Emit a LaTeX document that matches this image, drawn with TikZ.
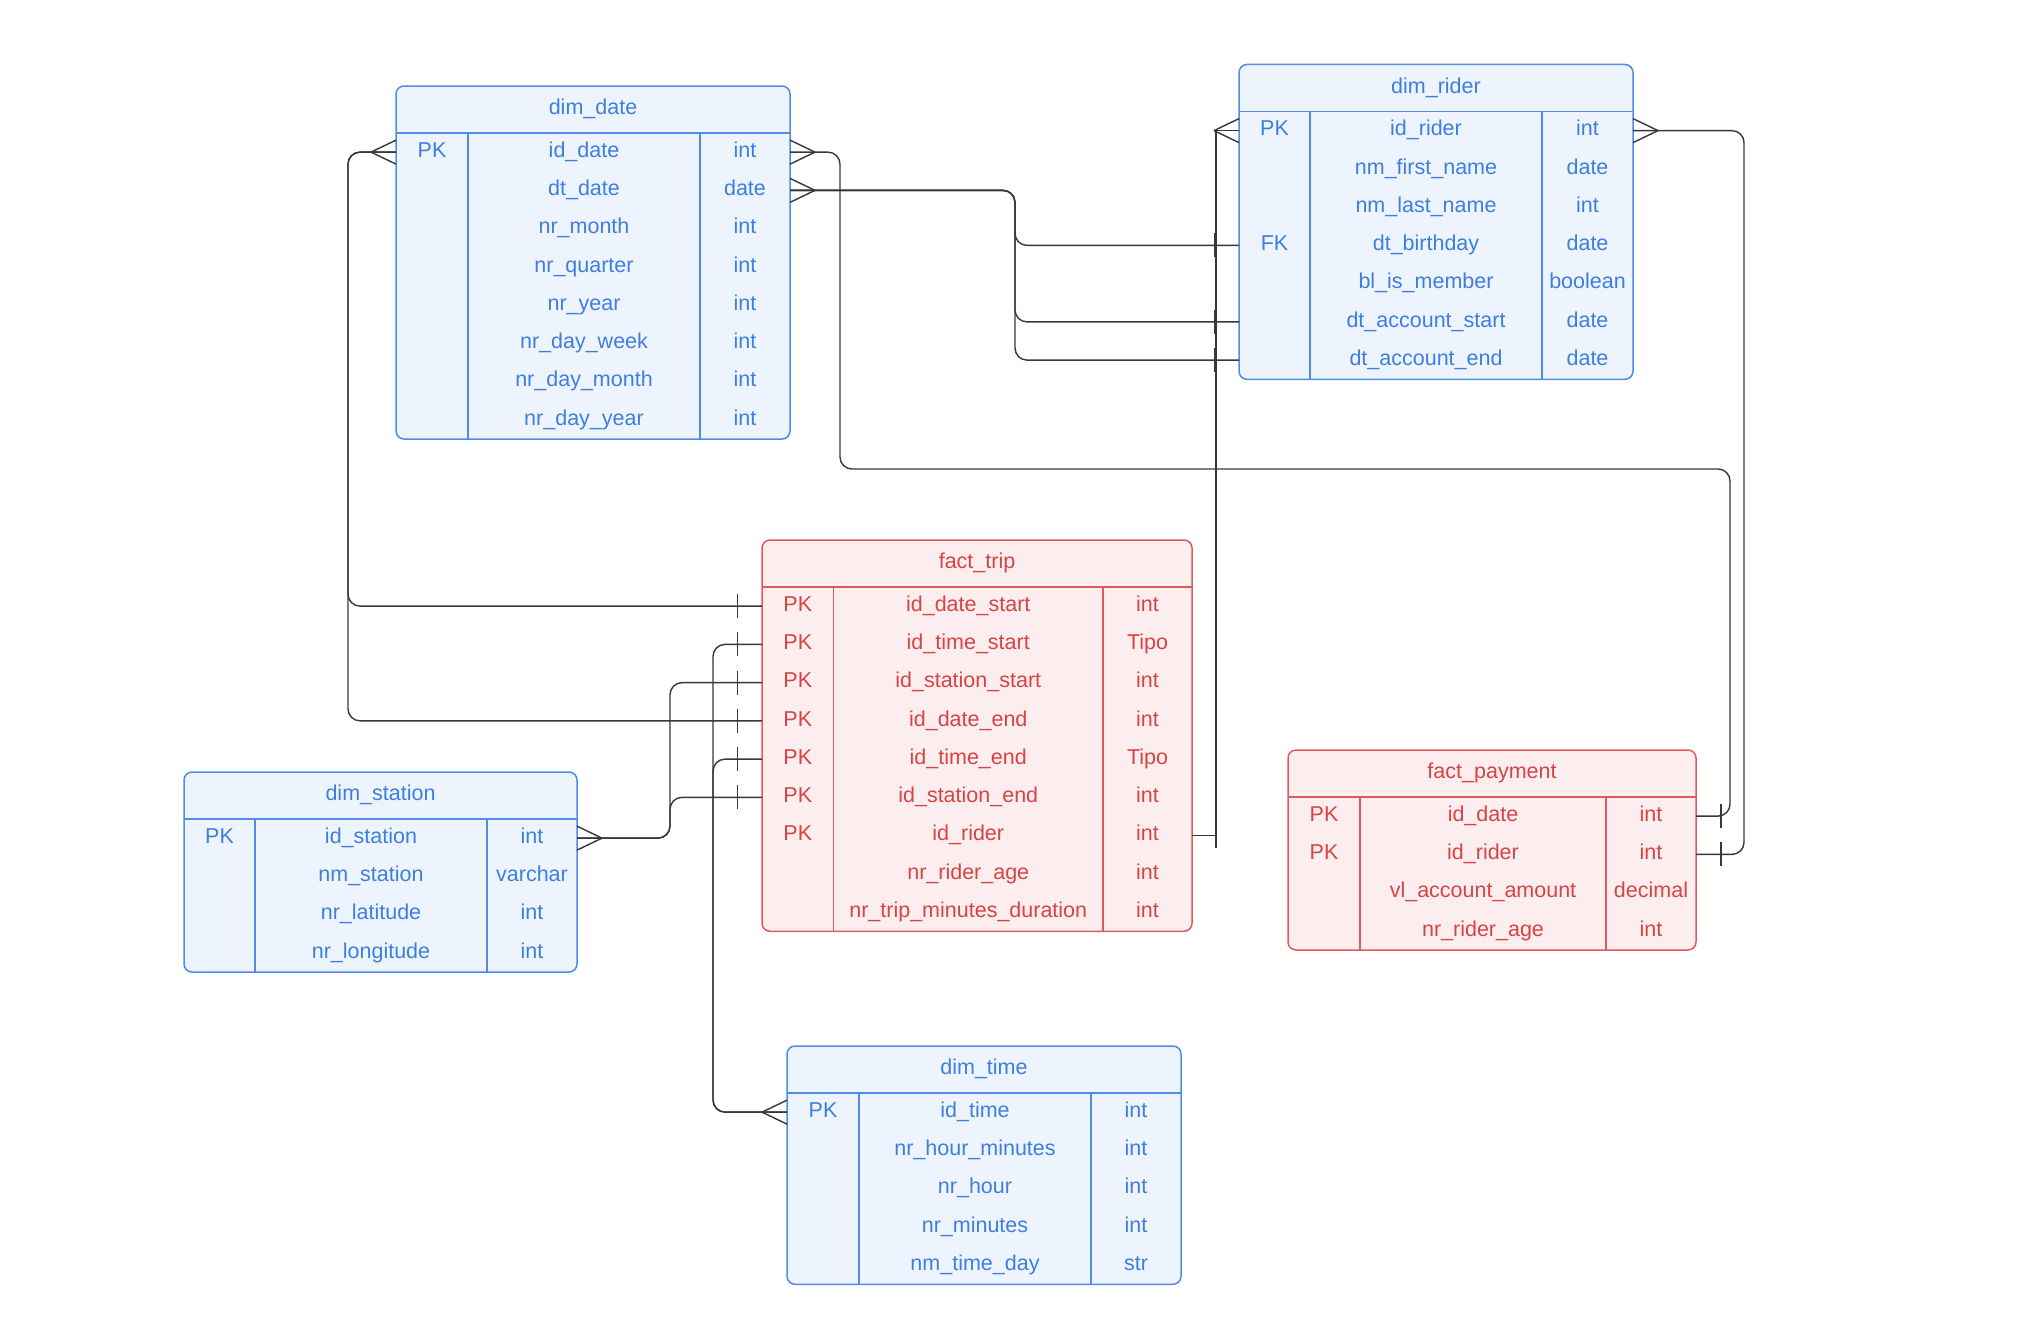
\documentclass[tikz,border=0pt]{standalone}
\usepackage{fontspec}
\setmainfont{Liberation Sans}
\usetikzlibrary{calc}

\definecolor{bluetext}{HTML}{3D7FE0}
\definecolor{bluefill}{HTML}{EEF4FE}
\definecolor{blueline}{HTML}{4F8CE6}
\definecolor{redtext}{HTML}{D94343}
\definecolor{redfill}{HTML}{FCEEEE}
\definecolor{redline}{HTML}{E05A5A}
\definecolor{wire}{HTML}{383838}

\tikzset{
  conn/.style={draw=wire, line width=1.4pt},
  route/.style={conn, rounded corners=12pt},
  crowW/.pic={\draw[conn] (-25,0) -- (0,-12) (-25,0) -- (0,12);},
  crowE/.pic={\draw[conn] (25,0) -- (0,-12) (25,0) -- (0,12);},
  onebar/.pic={\draw[conn] (0,-12) -- (0,12);},
  cell/.style={text=ttext, anchor=base, inner sep=0pt,
    font=\fontsize{21.5}{25}\selectfont},
  rowbox/.style={inner sep=0pt, outer sep=0pt, minimum height=38.25pt},
  tablebox/.style={draw=tline, fill=tfill, line width=1.5pt,
    rounded corners=8pt, inner sep=0pt, outer sep=0pt, anchor=north west},
  grid/.style={draw=tline, line width=1.5pt},
}

% #1 name, #2 palette, #3 x, #4 y (top left), #5 key width,
% #6 field width, #7 type width, #8 title, #9 rows key/field/type
\newcommand{\ertable}[9]{%
  \colorlet{ttext}{#2text}\colorlet{tfill}{#2fill}\colorlet{tline}{#2line}%
  \foreach \rr [count=\n] in {#9} {\xdef\ernrows{\n}}%
  \pgfmathsetmacro{\erW}{#5+#6+#7}%
  \pgfmathsetmacro{\erH}{47+\ernrows*38.25}%
  \node[tablebox, minimum width=\erW pt, minimum height=\erH pt] (#1) at (#3,#4) {};
  \draw[grid] (#3,{#4+47}) -- ({#3+\erW},{#4+47});
  \draw[grid] ({#3+#5},{#4+47}) -- ({#3+#5},{#4+\erH})
              ({#3+#5+#6},{#4+47}) -- ({#3+#5+#6},{#4+\erH});
  \node[cell] (#1-title) at ({#3+\erW/2},{#4+28.8}) {#8};
  \foreach \fk/\fn/\ft [count=\i] in {#9} {
    \pgfmathsetmacro{\ery}{#4+47+(\i-0.5)*38.25}
    \node[rowbox, minimum width=\erW pt] (#1-\i) at ({#3+\erW/2},\ery) {};
    \node[cell] (#1-\i-key)  at ({#3+#5/2},{\ery+5.3}) {\fk};
    \node[cell] (#1-\i-name) at ({#3+#5+#6/2},{\ery+5.3}) {\fn};
    \node[cell] (#1-\i-type) at ({#3+#5+#6+#7/2},{\ery+5.3}) {\ft};
  }
}

\begin{document}
\begin{tikzpicture}[x=1pt, y=-1pt]
\fill[white] (0,0) rectangle (2020,1338);
\useasboundingbox (0,0) rectangle (2020,1338);

% tables
\ertable{date}{blue}{396}{86}{72}{232}{90}{dim\_date}{PK/id\_date/int, /dt\_date/date, /nr\_month/int, /nr\_quarter/int, /nr\_year/int, /nr\_day\_week/int, /nr\_day\_month/int, /nr\_day\_year/int}
\ertable{rider}{blue}{1239}{64.5}{71}{232}{91}{dim\_rider}{PK/id\_rider/int, /nm\_first\_name/date, /nm\_last\_name/int, FK/dt\_birthday/date, /bl\_is\_member/boolean, /dt\_account\_start/date, /dt\_account\_end/date}
\ertable{trip}{red}{762}{540}{71.5}{269.5}{89}{fact\_trip}{PK/id\_date\_start/int, PK/id\_time\_start/Tipo, PK/id\_station\_start/int, PK/id\_date\_end/int, PK/id\_time\_end/Tipo, PK/id\_station\_end/int, PK/id\_rider/int, /nr\_rider\_age/int, /nr\_trip\_minutes\_duration/int}
\ertable{station}{blue}{184}{772}{71}{232}{90}{dim\_station}{PK/id\_station/int, /nm\_station/varchar, /nr\_latitude/int, /nr\_longitude/int}
\ertable{pay}{red}{1288}{750}{72}{246}{90}{fact\_payment}{PK/id\_date/int, PK/id\_rider/int, /vl\_account\_amount/decimal, /nr\_rider\_age/int}
\ertable{time}{blue}{787}{1046}{72}{232}{90}{dim\_time}{PK/id\_time/int, /nr\_hour\_minutes/int, /nr\_hour/int, /nr\_minutes/int, /nm\_time\_day/str}

% dim_date.id_date -> fact_trip start and end dates
\draw[route] (date-1.west) -- ([xshift=-48pt]date-1.west) |- (trip-1.west);
\draw[route] (date-1.west) -- ([xshift=-48pt]date-1.west) |- (trip-4.west);
\pic at (date-1.west) {crowW};
\pic at ([xshift=-24.5pt]trip-1.west) {onebar};
\pic at ([xshift=-24.5pt]trip-4.west) {onebar};

% dim_date.id_date -> fact_payment.id_date
\coordinate (payturn) at (1730,469);
\draw[route] (date-1.east) -- ([xshift=50pt]date-1.east) |- (payturn) |- (pay-1.east);
\pic at (date-1.east) {crowE};
\pic at ([xshift=25pt]pay-1.east) {onebar};

% dim_date.dt_date -> dim_rider dates
\draw[route] (date-2.east) -- ([xshift=225pt]date-2.east) |- (rider-4.west);
\draw[route] (date-2.east) -- ([xshift=225pt]date-2.east) |- (rider-6.west);
\draw[route] (date-2.east) -- ([xshift=225pt]date-2.east) |- (rider-7.west);
\pic at (date-2.east) {crowE};
\pic at ([xshift=-24pt]rider-4.west) {onebar};
\pic at ([xshift=-24pt]rider-6.west) {onebar};
\pic at ([xshift=-24pt]rider-7.west) {onebar};

% dim_rider.id_rider -> fact_trip.id_rider
\draw[conn] (trip-7.east) -- ([xshift=24pt]trip-7.east) |- (rider-1.west);
\pic at (rider-1.west) {crowW};
\pic at ([xshift=24pt]trip-7.east) {onebar};

% dim_rider.id_rider -> fact_payment.id_rider
\draw[route] (rider-1.east) -- ([xshift=111pt]rider-1.east) |- (pay-2.east);
\pic at (rider-1.east) {crowE};
\pic at ([xshift=25pt]pay-2.east) {onebar};

% dim_station.id_station -> fact_trip stations
\draw[route] (station-1.east) -- ([xshift=93pt]station-1.east) |- (trip-3.west);
\draw[route] (station-1.east) -- ([xshift=93pt]station-1.east) |- (trip-6.west);
\pic at (station-1.east) {crowE};
\pic at ([xshift=-24.5pt]trip-3.west) {onebar};
\pic at ([xshift=-24.5pt]trip-6.west) {onebar};

% dim_time.id_time -> fact_trip times
\draw[route] (time-1.west) -- ([xshift=-74pt]time-1.west) |- (trip-2.west);
\draw[route] (time-1.west) -- ([xshift=-74pt]time-1.west) |- (trip-5.west);
\pic at (time-1.west) {crowW};
\pic at ([xshift=-24.5pt]trip-2.west) {onebar};
\pic at ([xshift=-24.5pt]trip-5.west) {onebar};
\end{tikzpicture}
\end{document}
